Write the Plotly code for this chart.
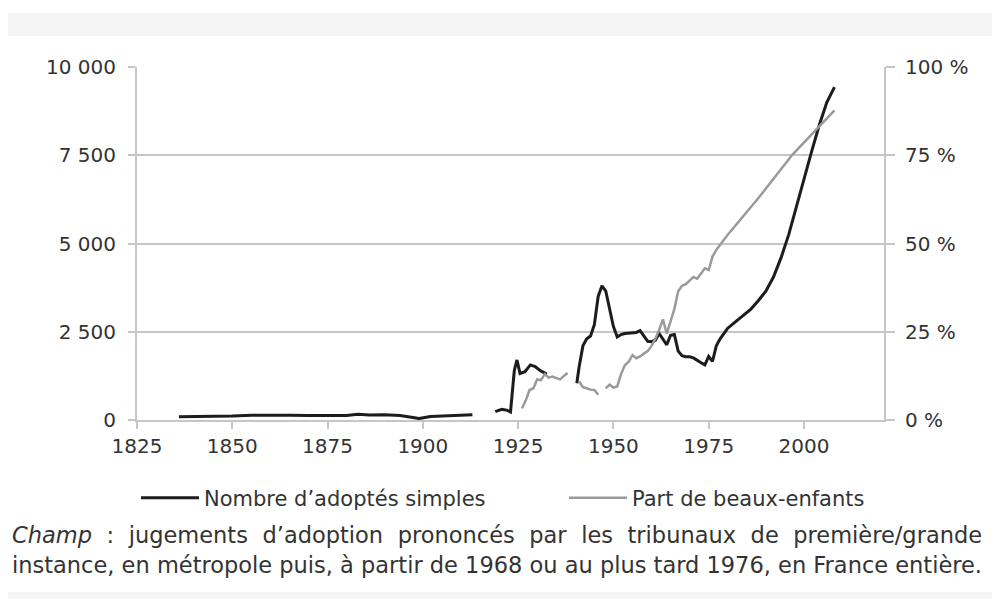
import plotly.graph_objects as go

# Nombre d'adoptés simples (échelle de gauche), None = pas de donnée
years_simples = [
    1836, 1845, 1850, 1855, 1860, 1865, 1870, 1875, 1880, 1883, 1886, 1890, 1894, 1897, 1899,
    1902, 1906, 1910, 1913, 1916,
    1919, 1920.7, 1922, 1923, 1924, 1924.7, 1925.5, 1926.8, 1928.2, 1929.5, 1930.8, 1932.5, 1936,
    1940.4, 1941, 1942, 1943, 1944, 1945, 1946, 1947, 1948, 1949, 1950, 1951, 1952, 1953, 1954,
    1955, 1956, 1957, 1958, 1959, 1960, 1961, 1962, 1963, 1964, 1965, 1966, 1967, 1968, 1969,
    1970, 1971, 1972, 1973, 1974, 1975, 1976, 1977, 1978, 1979, 1980, 1982, 1984, 1986, 1988,
    1990, 1992, 1994, 1996, 1998, 2000, 2002, 2004, 2006, 2008,
]
nb_simples = [
    90, 100, 110, 135, 140, 135, 125, 125, 130, 160, 140, 150, 130, 80, 40,
    100, 120, 140, 150, None,
    235, 300, 280, 230, 1400, 1700, 1320, 1370, 1560, 1510, 1400, 1300, None,
    1040, 1500, 2100, 2300, 2380, 2700, 3500, 3800, 3650, 3100, 2650, 2350, 2420, 2450, 2460,
    2470, 2480, 2530, 2380, 2230, 2220, 2260, 2450, 2300, 2130, 2400, 2420, 1950, 1820, 1790,
    1790, 1760, 1680, 1620, 1560, 1800, 1660, 2100, 2300, 2450, 2600, 2780, 2950, 3130, 3380,
    3650, 4050, 4600, 5250, 6050, 6800, 7600, 8350, 9000, 9430,
]

# Part de beaux-enfants (%, échelle de droite)
years_beaux = [
    1926, 1927, 1928, 1929, 1930, 1931, 1932, 1933, 1934, 1935, 1936, 1937, 1938, 1939.5,
    1941, 1942, 1943, 1944, 1945, 1946, 1947,
    1948, 1949, 1950, 1951, 1952, 1953, 1954, 1955, 1956, 1957, 1958, 1959, 1960, 1961, 1962,
    1963, 1964, 1965, 1966, 1967, 1968, 1969, 1970, 1971, 1972, 1973, 1974, 1975, 1976, 1977,
    1980, 1988, 1997, 2008,
]
part_beaux = [
    3.3, 5.5, 8.5, 9.0, 11.5, 11.3, 13.0, 12.0, 12.3, 11.8, 11.5, 12.5, 13.3, None,
    10.9, 9.3, 9.0, 8.6, 8.5, 7.2, None,
    9.0, 10.0, 9.2, 9.5, 13.0, 15.5, 16.5, 18.4, 17.5, 18.0, 18.8, 19.5, 21.0, 23.0, 25.5,
    28.5, 24.5, 28.0, 31.5, 36.5, 38.0, 38.5, 39.5, 40.5, 40.0, 41.5, 43.0, 42.5, 46.3, 48.2,
    52.5, 62.8, 75.2, 87.7,
]

x_ticks = [1825, 1850, 1875, 1900, 1925, 1950, 1975, 2000]
left_ticks = [0, 2500, 5000, 7500, 10000]
right_ticks = [0, 25, 50, 75, 100]
right_labels = ["0 %", "25 %", "50 %", "75 %", "100 %"]

FONT = "DejaVu Sans"
TXT = "#333333"
GRID = "#c6c6c6"

# the page adds an 8px body margin, so the figure is 992x591
W, H = 992, 591
L, R, T, B = 129, 876, 59, 412   # plot area in figure pixels
PW, PH = R - L, B - T


def px(x):
    return (x - L) / PW


def py(y):
    return (B - y) / PH


fig = go.Figure()
fig.add_trace(go.Scatter(
    x=years_simples, y=nb_simples, name="Nombre d\u2019adoptés simples",
    mode="lines", line=dict(color="#1c1c1c", width=3), connectgaps=False,
))
fig.add_trace(go.Scatter(
    x=years_beaux, y=part_beaux, name="Part de beaux-enfants", yaxis="y2",
    mode="lines", line=dict(color="#9a9a9a", width=2.5), connectgaps=False,
))

fig.update_layout(
    width=W, height=H,
    margin=dict(l=L, r=W - R, t=T, b=H - B),
    paper_bgcolor="white", plot_bgcolor="white",
    separators=", ",
    font=dict(family=FONT, size=20, color=TXT),
    xaxis=dict(
        range=[1825, 2021], tickvals=x_ticks, showgrid=False, zeroline=False,
        showline=True, linecolor=GRID, linewidth=2,
        ticks="outside", ticklen=7, tickcolor=GRID, tickwidth=2,
        tickfont=dict(family=FONT, size=20, color=TXT),
    ),
    yaxis=dict(
        range=[0, 10000], tickvals=left_ticks, tickformat=",",
        showgrid=True, gridcolor=GRID, gridwidth=2, zeroline=False,
        showline=True, linecolor=GRID, linewidth=2,
        ticks="outside", ticklen=7, tickcolor=GRID, tickwidth=2,
        ticklabelstandoff=8,
        tickfont=dict(family=FONT, size=20, color=TXT),
    ),
    yaxis2=dict(
        range=[0, 100], tickmode="array", tickvals=right_ticks, ticktext=right_labels,
        overlaying="y", side="right", showgrid=False, zeroline=False,
        showline=True, linecolor=GRID, linewidth=2,
        ticks="outside", ticklen=9, tickcolor=GRID, tickwidth=2,
        ticklabelstandoff=6,
        tickfont=dict(family=FONT, size=20, color=TXT),
    ),
    legend=dict(
        orientation="h", x=px(128), xanchor="left", y=py(490), yanchor="middle",
        font=dict(family=FONT, size=21, color=TXT), itemwidth=58,
        entrywidth=355, entrywidthmode="pixels",
        bgcolor="rgba(0,0,0,0)",
    ),
)

# bandeaux gris en haut et en bas de la figure
fig.add_shape(type="rect", xref="paper", yref="paper",
              x0=px(0), x1=px(W), y0=py(5), y1=py(28),
              fillcolor="#f5f5f5", line_width=0, layer="below")
fig.add_shape(type="rect", xref="paper", yref="paper",
              x0=px(0), x1=px(W), y0=py(584), y1=py(H),
              fillcolor="#f5f5f5", line_width=0, layer="below")

# note "Champ", première ligne justifiée
gap = " \u2004"
caption1 = gap.join(["<i>Champ</i>", ":", "jugements", "d\u2019adoption", "prononcés", "par",
                     "les", "tribunaux", "de", "première/grande"])
caption2 = "instance, en métropole puis, à partir de 1968 ou au plus tard 1976, en France entière."
fig.add_annotation(text=caption1, xref="paper", yref="paper", x=px(2), y=py(527),
                   xanchor="left", yanchor="middle", showarrow=False,
                   font=dict(family=FONT, size=22.5, color=TXT))
fig.add_annotation(text=caption2, xref="paper", yref="paper", x=px(2), y=py(557),
                   xanchor="left", yanchor="middle", showarrow=False,
                   font=dict(family=FONT, size=22.5, color=TXT))

fig.write_html("out.html")
